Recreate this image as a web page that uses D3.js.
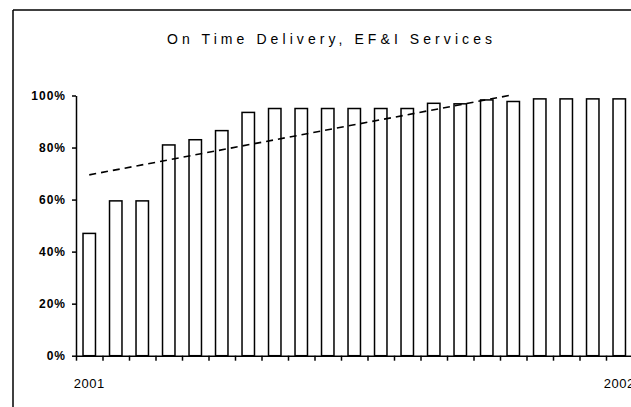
<!DOCTYPE html>
<html>
<head>
<meta charset="utf-8">
<script src="https://cdn.jsdelivr.net/npm/d3@7"></script>
<style>
  html, body { margin: 0; padding: 0; background: #fff; overflow: hidden; }
  svg { display: block; overflow: hidden; }
  text { font-family: "Liberation Sans", Arial, sans-serif; fill: #000; }
</style>
</head>
<body>
<div id="chart"></div>
<script>
"use strict";

// data (monthly on-time delivery, %)
const categories = d3.range(21).map(i => "m" + (i + 1));
const values = [47, 59.5, 59.5, 81, 83, 86.5, 93.5, 95, 95, 95, 95, 95, 95,
                97, 96.8, 98.3, 97.7, 98.7, 98.7, 98.7, 98.7];
const xLabels = [{ cat: "m1", text: "2001" }, { cat: "m21", text: "2002" }];
const yTicks = [0, 20, 40, 60, 80, 100];
// dashed trend line, start/end
const trendCats = ["m1", "m17"];
const trendValues = [69.5, 100.3];
const title = "On Time Delivery, EF&I Services";

const width = 631, height = 407;
const plotLeft = 76, plotRight = 632.5, plotTop = 95.5, plotBottom = 355.7;

const svg = d3.select("#chart").append("svg")
    .attr("width", width)
    .attr("height", height);

// outer frame: left and top edges only
svg.append("line")
    .attr("x1", 13).attr("y1", 10).attr("x2", 13).attr("y2", height)
    .attr("stroke", "#000").attr("stroke-width", 1.5);
svg.append("line")
    .attr("x1", 13).attr("y1", 10).attr("x2", width).attr("y2", 10)
    .attr("stroke", "#000").attr("stroke-width", 1.5);

svg.append("text")
    .attr("x", 329.5).attr("y", 44)
    .attr("text-anchor", "middle")
    .attr("font-size", 14)
    .attr("textLength", 325)
    .attr("lengthAdjust", "spacing")
    .text(title);

const x = d3.scaleBand().domain(categories).range([plotLeft, plotRight])
    .paddingInner(0.53)
    .paddingOuter(0.265);
const xEdge = d3.scaleLinear().domain([0, categories.length]).range([plotLeft, plotRight]);
const y = d3.scaleLinear().domain([0, 100]).range([plotBottom, plotTop]);

// y axis
const yAxis = d3.axisLeft(y)
    .tickValues(yTicks)
    .tickSize(4)
    .tickSizeOuter(0)
    .tickPadding(6)
    .tickFormat(d => d + "%");
const gy = svg.append("g")
    .attr("transform", "translate(" + plotLeft + ",0)")
    .call(yAxis);
gy.select(".domain").attr("stroke-width", 1.5);
gy.selectAll(".tick line").attr("stroke-width", 1.5);
gy.selectAll(".tick text")
    .attr("font-size", 12)
    .attr("font-family", "Liberation Sans, Arial, sans-serif")
    .attr("letter-spacing", 1)
    .attr("font-weight", "bold");

// bars
svg.append("g").selectAll("rect")
    .data(values)
    .join("rect")
    .attr("x", (d, i) => x(categories[i]))
    .attr("y", d => y(d))
    .attr("width", x.bandwidth())
    .attr("height", d => y(0) - y(d))
    .attr("fill", "#fff")
    .attr("stroke", "#000")
    .attr("stroke-width", 1.5);

// x axis: ticks between categories
const xAxis = d3.axisBottom(xEdge)
    .tickValues(d3.range(categories.length))
    .tickSize(5)
    .tickSizeOuter(0)
    .tickFormat("");
const gx = svg.append("g")
    .attr("transform", "translate(0," + plotBottom + ")")
    .call(xAxis);
gx.select(".domain").attr("stroke-width", 1.5);
gx.selectAll(".tick line").attr("stroke-width", 1.5);

svg.append("g").selectAll("text")
    .data(xLabels)
    .join("text")
    .attr("x", d => x(d.cat) + x.bandwidth() / 2)
    .attr("y", 388)
    .attr("text-anchor", "middle")
    .attr("font-size", 13)
    .attr("letter-spacing", 0.5)
    .text(d => d.text);

// trend line
const line = d3.line()
    .x(d => x(d[0]) + x.bandwidth() / 2)
    .y(d => y(d[1]));
svg.append("path")
    .datum(trendCats.map((c, i) => [c, trendValues[i]]))
    .attr("d", line)
    .attr("fill", "none")
    .attr("stroke", "#000")
    .attr("stroke-width", 1.6)
    .attr("stroke-dasharray", "7,5");
</script>
</body>
</html>
